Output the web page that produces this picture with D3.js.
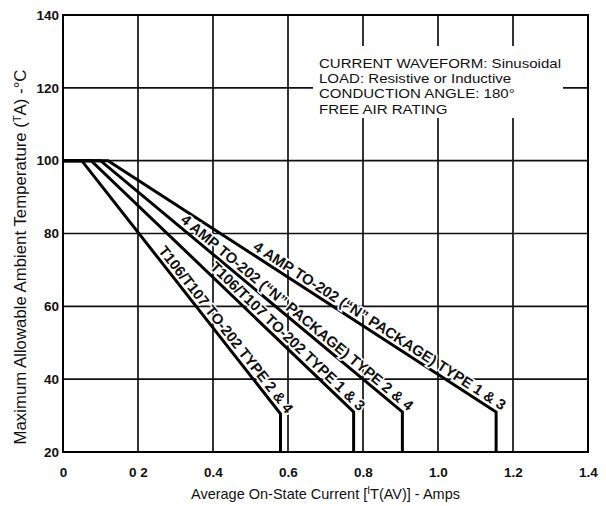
<!DOCTYPE html>
<html>
<head>
<meta charset="utf-8">
<script src="https://cdn.jsdelivr.net/npm/d3@7"></script>
<style>
body { margin: 0; background: #fff; }
svg { display: block; }
</style>
</head>
<body>
<div id="chart"></div>
<script>
// Axis ticks
var xTickValues = [0, 0.2, 0.4, 0.6, 0.8, 1.0, 1.2, 1.4];
var xTickLabels = ["0", "0 2", "0.4", "0.6", "0.8", "1.0", "1.2", "1.4"];
var yTickValues = [20, 40, 60, 80, 100, 120, 140];

// Derating curves: flat at 100 C, straight down to the knee, then vertical to 20 C
var curveNames = [
	"T106/T107 TO-202 TYPE 2 & 4",
	"T106/T107 TO-202 TYPE 1 & 3",
	"4 AMP TO-202 (\u201CN\u201D PACKAGE) TYPE 2 & 4",
	"4 AMP TO-202 (\u201CN\u201D PACKAGE) TYPE 1 & 3"
];
var flatTemp = 100;
var breakCurrent = [0.05, 0.075, 0.1, 0.12];
var kneeCurrent = [0.58, 0.775, 0.905, 1.155];
var kneeTemp = [30.5, 31, 31, 31];
var floorTemp = 20;

var noteLines = [
	"CURRENT WAVEFORM: Sinusoidal",
	"LOAD: Resistive or Inductive",
	"CONDUCTION ANGLE: 180\u00B0",
	"FREE AIR RATING"
];

var margin = {top: 15, right: 18, bottom: 54, left: 63};
var width = 606 - margin.left - margin.right;
var height = 506 - margin.top - margin.bottom;

var svg = d3.select("#chart")
	.append("svg")
	.attr("width", 606)
	.attr("height", 506)
	.style("font-family", "'Liberation Sans', Arial, Helvetica, sans-serif");

svg.append("rect").attr("width", 606).attr("height", 506).attr("fill", "#fff");

var g = svg.append("g")
	.attr("transform", "translate(" + margin.left + "," + margin.top + ")");

// Scales
var xScale = d3.scaleLinear().domain([0, 1.4]).range([0, width]);
var yScale = d3.scaleLinear().domain([20, 140]).range([height, 0]);

// Grid
g.append("g")
	.selectAll("line")
	.data(xTickValues.slice(1, -1))
	.enter()
	.append("line")
	.attr("x1", function(d){ return xScale(d); })
	.attr("x2", function(d){ return xScale(d); })
	.attr("y1", 0)
	.attr("y2", height)
	.attr("stroke", "#111")
	.attr("stroke-width", 1.7);

g.append("g")
	.selectAll("line")
	.data(yTickValues.slice(1, -1))
	.enter()
	.append("line")
	.attr("x1", 0)
	.attr("x2", width)
	.attr("y1", function(d){ return yScale(d); })
	.attr("y2", function(d){ return yScale(d); })
	.attr("stroke", "#111")
	.attr("stroke-width", 1.7);

// Note box (covers the grid behind it)
var note = g.append("g").attr("transform", "translate(250,31)");
note.append("rect")
	.attr("width", 250)
	.attr("height", 72)
	.attr("fill", "#fff");
// the scanned font is wider than Liberation Sans, so stretch it a little
note.append("g")
	.attr("transform", "translate(6,0) scale(1.14,1)")
	.selectAll("text")
	.data(noteLines)
	.enter()
	.append("text")
	.attr("x", 0)
	.attr("y", function(d, i){ return 22 + i * 15.2; })
	.attr("font-size", "13.2px")
	.attr("fill", "#111")
	.text(function(d){ return d; });

// Curves
var curveData = curveNames.map(function(name, i){
	return {
		name: name,
		points: [
			[0, flatTemp],
			[breakCurrent[i], flatTemp],
			[kneeCurrent[i], kneeTemp[i]],
			[kneeCurrent[i], floorTemp]
		]
	};
});

var line = d3.line()
	.x(function(d){ return xScale(d[0]); })
	.y(function(d){ return yScale(d[1]); });

g.append("g")
	.selectAll("path")
	.data(curveData)
	.enter()
	.append("path")
	.attr("d", function(d){ return line(d.points); })
	.attr("fill", "none")
	.attr("stroke", "#000")
	.attr("stroke-width", 3)
	.attr("stroke-linejoin", "miter");

// Labels along the sloped part, ending at the knee
g.append("g")
	.selectAll("text")
	.data(curveData)
	.enter()
	.append("text")
	.attr("transform", function(d){
		var x0 = xScale(d.points[1][0]), y0 = yScale(d.points[1][1]);
		var x1 = xScale(d.points[2][0]), y1 = yScale(d.points[2][1]);
		var angle = Math.atan2(y1 - y0, x1 - x0) * 180 / Math.PI;
		return "translate(" + x1 + "," + y1 + ") rotate(" + angle + ")";
	})
	.attr("x", 4)
	.attr("y", -4)
	.attr("text-anchor", "end")
	.attr("font-size", "14.8px")
	.attr("font-weight", "bold")
	.attr("fill", "#111")
	.attr("stroke", "#fff")
	.attr("stroke-width", 3)
	.attr("paint-order", "stroke")
	.text(function(d){ return d.name; });

// Frame
g.append("rect")
	.attr("width", width)
	.attr("height", height)
	.attr("fill", "none")
	.attr("stroke", "#000")
	.attr("stroke-width", 2);

// Axes
var xAxis = g.append("g")
	.attr("transform", "translate(0," + height + ")")
	.call(d3.axisBottom(xScale)
		.tickValues(xTickValues)
		.tickFormat(function(d, i){ return xTickLabels[i]; })
		.tickSize(0)
		.tickPadding(15));

var yAxis = g.append("g")
	.call(d3.axisLeft(yScale)
		.tickValues(yTickValues)
		.tickFormat(d3.format("d"))
		.tickSize(0)
		.tickPadding(4));

[xAxis, yAxis].forEach(function(a){
	a.select(".domain").remove();
	a.selectAll("text")
		.attr("font-family", "'Liberation Sans', Arial, sans-serif")
		.attr("font-size", "13.5px")
		.attr("font-weight", "bold")
		.attr("fill", "#111");
});

// Axis titles
var xTitle = svg.append("text")
	.attr("x", margin.left + width / 2)
	.attr("y", 499)
	.attr("text-anchor", "middle")
	.attr("font-size", "14.5px")
	.attr("fill", "#111");
xTitle.append("tspan").text("Average On-State Current [");
xTitle.append("tspan").attr("dy", -5).attr("font-size", "10px").text("I");
xTitle.append("tspan").attr("dy", 5).text("T(AV)] - Amps");

var yTitle = svg.append("text")
	.attr("transform", "translate(26," + 257 + ") rotate(-90)")
	.attr("text-anchor", "middle")
	.attr("font-size", "16.8px")
	.attr("fill", "#111");
yTitle.append("tspan").text("Maximum Allowable Ambient Temperature (");
yTitle.append("tspan").attr("dy", -5).attr("font-size", "11px").text("T");
yTitle.append("tspan").attr("dy", 5).text("A) -\u00B0C");
</script>
</body>
</html>
